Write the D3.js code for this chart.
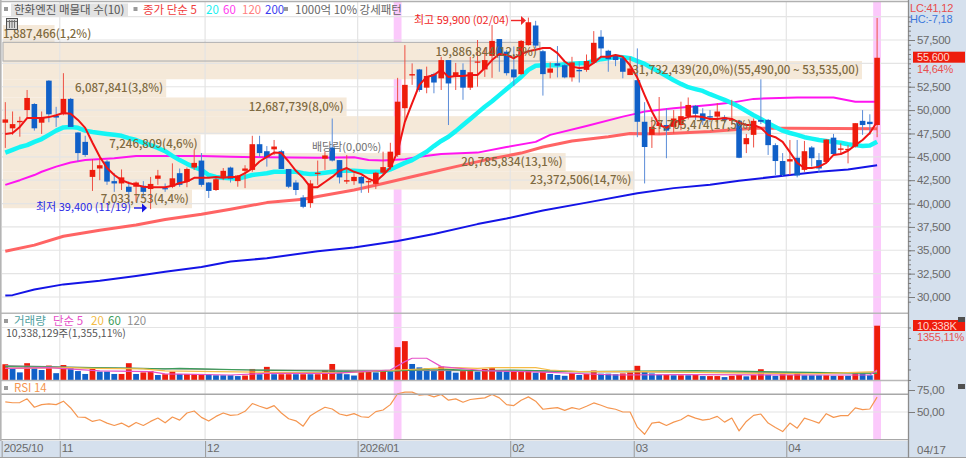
<!DOCTYPE html>
<html>
<head>
<meta charset="utf-8">
<script src="https://cdn.jsdelivr.net/npm/d3@7"></script>
<style>
    body { margin: 0; background: #fff; overflow: hidden; }
    text { font-family: "Noto Sans CJK KR", "Liberation Sans", sans-serif; }
</style>
</head>
<body>
<div class="chart"></div>
<script>
// candles, oldest first
const open = [
    48650,48050,48700,50000,50650,48650,53150,49400,49550,51200,
    47600,46600,42850,43750,44500,42400,42150,41800,41800,41900,
    41550,42650,41650,41800,43250,42350,43850,44600,42250,41450,
    42850,43850,42400,43500,43600,46350,45600,45800,45600,43700,
    42250,40650,40050,43150,44800,46000,44650,42350,42400,42850,
    42300,42100,43300,43900,45200,50200,53700,54350,52400,53850,
    53400,55350,53650,54300,52400,55100,54350,55800,57600,56250,
    54350,53850,56950,59050,56300,54000,55000,54800,53500,54300,
    54300,55100,57850,56350,55800,55550,53750,53200,48750,47350,
    48300,48400,48200,48400,49350,50450,49650,49350,49300,49200,
    48850,48850,46350,47350,48950,48950,46250,44550,44500,44900,
    43600,46000,44650,44450,47050,45750,45750,46100,48850,48750,48400];
const high = [
    50850,49850,49300,52150,50750,49850,53200,50350,53950,51300,
    47650,47250,44750,45000,44650,43250,43650,42350,42350,42400,
    42850,43600,42150,44300,43750,43850,45750,45400,42300,42750,
    43800,43950,43050,44100,47250,47250,46150,46800,45750,43700,
    42500,40900,42500,44600,45550,49100,44650,45200,43250,42950,
    42500,43400,45550,46500,53450,56950,55000,54400,54650,54000,
    55700,55350,55050,55000,55700,57500,56650,59100,57600,56450,
    56800,57500,59900,59550,56450,55100,56850,54950,55700,55200,
    55950,58450,58550,56450,55950,55700,55700,56600,50850,49250,
    51400,50200,50000,50900,51350,50550,50200,50000,50750,49450,
    51100,48950,47450,49100,53300,49050,46450,45400,46800,46800,
    46700,46150,45400,46900,47450,46450,46250,48600,50000,49550,59850];
const low = [
    45950,47350,47150,49150,47800,47450,48700,48200,49450,48200,
    44500,45000,41350,42500,42000,41250,41450,40050,40200,40600,
    39400,42000,41250,41650,41800,41750,43600,41800,40600,41350,
    42500,42250,41800,41650,43400,45000,43950,45200,43700,41650,
    40900,39500,39550,42000,43600,44500,42150,42100,42000,41150,
    41150,41550,43050,43600,45000,48750,52700,51950,51800,51800,
    52150,48400,52150,51100,52150,52500,53550,53450,54100,53700,
    52600,53750,56900,56650,51550,53400,53500,53400,53050,52950,
    54100,55000,55550,54100,54700,53400,53750,47100,42150,45950,
    47350,44850,47500,47850,49000,48950,48400,48750,48600,48600,
    48400,44850,45400,46000,48500,45200,43050,42950,43050,42800,
    43400,43950,43300,44350,45200,45200,44300,46000,47350,47350,47100];
const close = [
    49000,48500,48850,51300,48050,49250,49550,49200,51200,48200,
    45400,45200,43600,44100,42350,42150,42800,41250,42250,41250,
    42100,43000,41550,42700,42000,43700,44350,42000,41350,42600,
    43500,42650,43000,43750,46350,45400,44950,46100,43700,41800,
    41450,39650,42150,43300,45150,44600,42800,42500,42850,42150,
    42400,43300,43900,45550,50900,52700,53850,52150,53650,52950,
    55350,52850,54050,52400,54050,55200,55350,57400,55800,53950,
    53500,57400,59400,56900,53850,54450,54750,53500,55100,54150,
    55250,57200,56600,55450,55350,54100,54450,48750,46050,48200,
    48600,47800,49100,49350,50550,49600,48850,49200,49850,48950,
    49000,44900,47000,48850,48750,46250,44550,43050,44750,43000,
    45600,44850,43750,46850,45300,45900,45850,48600,48400,48500,55600];

// moving averages
const ma5 = [
    47450,47550,48200,49150,49150,49150,49250,49450,49700,49600,
    48950,48100,46500,45000,43800,43050,42500,42200,42000,41800,
    41750,41750,41750,41900,42200,42350,42750,42750,42750,42850,
    42750,42850,42850,43250,43750,44500,45000,45450,45400,44500,
    43500,42750,41750,41750,42300,42850,43500,43800,43400,43150,
    42650,42350,43050,43850,45550,48750,50750,52700,53550,53750,
    54300,53550,53650,53650,53750,53750,54500,55350,56000,55900,
    55550,56000,56300,56450,56650,56650,56100,55200,54650,54500,
    54550,55050,55700,55700,55900,55700,54800,53450,51600,49850,
    48400,48100,48600,48950,49300,49350,49250,49050,49050,49150,
    49050,48650,48400,48400,48100,47350,47100,46600,45500,44350,
    43800,43800,43950,44350,45200,45300,45650,46250,46800,47550,48750];
const ma20 = [
    45450,45750,46050,46250,46600,46900,47350,47800,48150,48200,
    48100,47800,47650,47550,47450,47350,47250,47000,46800,46500,
    46250,45950,45600,45100,44650,44250,43900,43600,43050,42850,
    42750,42700,42650,42850,43050,43150,43250,43400,43400,43400,
    43400,43250,43150,43200,43300,43400,43500,43500,43500,43450,
    43400,43400,43400,43650,44000,44350,44650,45100,45550,46150,
    46700,47150,47750,48400,49050,49700,50350,50950,51600,52250,
    52900,53550,54300,54750,54800,54800,54800,54900,54950,55000,
    55050,55250,55450,55550,55700,55650,55550,55250,54950,54500,
    54100,53650,53200,52800,52450,52250,52050,51700,51400,51100,
    50750,50350,49900,49450,49050,48600,48200,47800,47550,47350,
    47100,46950,46800,46700,46600,46500,46350,46250,46150,46200,46600];
const ma60X = [0,2,4,5,7,9,11,15,18,22,27,31,36,43,48,50,52,55,57,60,65,69,73,75,80,85,87,88,92,97,100,103,109,114,117,120];
const ma60 = [42000,42500,43050,43400,43950,44400,44650,44850,45100,45100,45100,45000,44950,44900,44950,44650,44600,44750,45000,45300,45450,46050,46600,47350,48300,49300,49650,49850,50200,50550,50800,51200,51350,51350,50900,50900];
const ma120X = [0,4,8,13,18,22,27,31,36,41,43,48,52,57,62,66,71,74,78,83,86,90,97,103,108,120];
const ma120 = [34900,35550,36500,37150,37700,38300,38850,39400,40100,40450,40750,41450,42150,43050,43950,44650,45400,46050,46700,47150,47500,47450,47700,48050,48050,48000];
const ma200X = [0,1,4,8,13,18,22,27,31,36,43,48,54,59,65,69,74,80,87,92,97,101,108,112,116,120];
const ma200 = [30150,30200,30800,31350,31750,32250,32700,33200,33800,34150,34900,35300,36000,36750,37800,38400,39250,40100,41100,41650,42000,42450,43050,43400,43650,44100];

// 매물대 bands, top to bottom
const bandTop = [59100,57250,55250,53300,51350,49350,47400,45400,43450,41500];
const bandBottom = [57250,55250,53300,51350,49350,47400,45400,43450,41500,39500];
const bandPct = [1.2,12.5,20.0,3.8,8.0,17.5,4.6,13.1,14.7,4.4];
const bandLabels = ["1,887,466(1,2%)","19,886,844(12,5%)","31,732,439(20,0%)(55,490,00 ~ 53,535,00)","6,087,841(3,8%)","12,687,739(8,0%)","27,705,474(17,5%)","7,246,809(4,6%)","20,785,834(13,1%)","23,372,506(14,7%)","7,033,753(4,4%)"];

// volume in thousands of shares
const volume = [
    3000,2100,1450,3200,2250,1900,2750,1300,2850,2250,
    1700,1150,2100,1600,1600,1150,1150,3200,1150,1450,
    1700,950,1100,1600,1150,1150,1150,1150,1100,900,
    900,900,750,850,2100,1100,2500,1100,1100,1100,
    1100,1100,1100,1100,1900,3050,1600,1100,850,1600,
    1600,1450,1900,1600,6250,7400,3050,2400,2250,1700,
    2550,2100,1400,1700,1900,1600,2100,2250,1900,1600,
    1700,1600,1900,1400,1600,1150,950,800,1350,950,
    1150,1800,1200,1200,1100,1250,1450,2700,1600,1250,
    1000,1000,900,900,900,950,750,750,750,550,
    800,950,700,950,2050,1000,800,1100,950,1350,
    900,900,900,900,800,800,800,1250,1250,900,10338];
const volumeDir = ("rbbrbbrbrb" + "bbrbbbrrbr" + "rbrrbrrrbb" + "bbbrrbrbrr" + "brbrrrbbbr" + "rbrbrrbbbb" +
    "rbbrrb" + "rrbbrrrbrb" + "bbrbrrbbbr" + "rrbbbrbrbr" + "brrbrrbrrb" + "brrrbbbrbr" + "brbbr").split("");
const volMa5X = [0,6,13,20,22,31,36,40,45,53,55,56,58,60,65,66,75,84,93,111,119,120];
const volMa5 = [2230,2370,1720,1590,1150,950,1270,1270,1270,1900,3500,4140,4140,2550,1900,1780,1470,950,1020,950,950,1900];
const volMa20X = [0,9,12,19,22,29,40,47,54,59,62,65,67,73,75,79,88,111,120];
const volMa20 = [2230,2360,2230,2100,1720,1590,1400,1400,1900,2230,2360,2230,2360,2360,1900,1590,1590,1150,1590];
const volMa60X = [0,12,22,24,27,34,40,50,54,59,65,70,79,95,120];
const volMa60 = [2550,2360,2100,2230,2100,1900,1780,1590,1720,2100,1780,1900,1590,1780,1270];
const volMa120X = [0,10,18,34,65,79,120];
const volMa120 = [2740,2420,2230,1900,1780,1590,1330];

const rsi = [
    61.5,60.5,60.7,65,55.4,58.4,59.2,58.4,62.3,54.6,
    44.3,43.9,39.3,41.2,37.4,34.7,37.4,33.1,38.1,34.7,
    39.3,43.1,37.7,44.3,40.8,48.9,51.1,43.9,39.7,45,
    48.9,46.2,46.9,50.8,59.6,56.5,53.8,57.3,48.9,42.3,
    40,33.9,45.8,50.8,55.4,53.4,47.7,45.8,48.1,44.6,
    43.9,50.4,52.3,58.4,70.7,72.6,72.6,69.2,69.9,67.2,
    69.9,63.4,64.9,61.1,64.2,65.3,66.1,69.9,66.1,58.4,
    57.3,63.4,67.2,62.3,53.1,54.2,55,51.9,55,53.1,
    56.5,60.3,57.7,54.6,53.1,50,50,32.8,24.7,37.4,
    38.5,34.7,38.5,41.2,46.2,43.1,40.8,42,45,38.5,
    43.1,28.5,39.3,46.2,47.7,37.4,32.4,27.8,37.4,31.6,
    43.1,40.4,37.4,48.1,43.9,45.8,45.8,54.6,52.7,53.4,66.9];

const monthIdx = [0,8,28,49,70,87,108];
const monthLabels = ["2025/10","11","12","2026/01","02","03","04"];
const priceTicks = [30000,32500,35000,37500,40000,42500,45000,47500,50000,52500,55000,57500];
const highlightIdx = [54,120];

const width = 966;
const height = 458;
const axisX = 908;
const gridColor = "#e4e4e4";
const panelColor = "#d5e0ed";
const upColor = "#ee1c0c";
const downColor = "#1060c8";
const numFont = "'Liberation Sans', sans-serif";

const x = d3.scaleLinear().domain([0, 120]).range([5.3, 877.1]);
const y = d3.scaleLinear().domain([30000, 57500]).range([297, 40]);
const yVol = d3.scaleLinear().domain([0, 10338]).range([380, 325.7]);
const yRsi = d3.scaleLinear().domain([50, 75]).range([412, 390]);
const bandW = d3.scaleLinear().domain([0, 20]).range([3, 862]);

const svg = d3.select("div.chart")
    .append("svg")
    .attr("width", width)
    .attr("height", height)
    .style("display", "block");

svg.append("rect").attr("width", width).attr("height", height).attr("fill", "#fff");

// pink signal days
svg.append("g").selectAll("rect")
    .data(highlightIdx)
    .enter()
    .append("rect")
    .attr("x", d => x(d) - 3.9)
    .attr("y", 2)
    .attr("width", 7.8)
    .attr("height", 438)
    .attr("fill", "#fbc9fb");

// price bands
svg.append("g").selectAll("rect")
    .data(bandPct)
    .enter()
    .append("rect")
    .attr("x", 3)
    .attr("y", (d, i) => y(bandTop[i]))
    .attr("width", d => bandW(d) - 3)
    .attr("height", (d, i) => y(bandBottom[i]) - y(bandTop[i]))
    .attr("fill", "#f5e9d9");

// grid
const grid = svg.append("g").attr("stroke", gridColor).attr("stroke-width", 1.2);
grid.selectAll("line.h")
    .data(priceTicks.concat([60000]))
    .enter()
    .append("line")
    .attr("x1", 2).attr("x2", axisX)
    .attr("y1", d => y(d)).attr("y2", d => y(d));
grid.selectAll("line.v")
    .data(monthIdx.slice(1))
    .enter()
    .append("line")
    .attr("x1", d => x(d - 0.5)).attr("x2", d => x(d - 0.5))
    .attr("y1", 2).attr("y2", 440);
grid.append("line").attr("x1", 2).attr("x2", axisX).attr("y1", yVol(10000)).attr("y2", yVol(10000));
grid.append("line").attr("x1", 2).attr("x2", axisX).attr("y1", yRsi(50)).attr("y2", yRsi(50));

// box around the band with the current price label
svg.append("rect")
    .attr("x", 3)
    .attr("y", y(bandTop[1]))
    .attr("width", bandW(bandPct[1]) - 3)
    .attr("height", y(bandBottom[1]) - y(bandTop[1]))
    .attr("fill", "none")
    .attr("stroke", "#b4b4b4")
    .attr("stroke-width", 1.2);

function drawLine(xs, vals, yScale, color, w) {
    svg.append("path")
        .datum(vals)
        .attr("fill", "none")
        .attr("stroke", color)
        .attr("stroke-width", w)
        .attr("stroke-linejoin", "round")
        .attr("d", d3.line().x((d, i) => x(xs ? xs[i] : i)).y(d => yScale(d)));
}

drawLine(ma200X, ma200, y, "#1414e6", 2);
drawLine(ma120X, ma120, y, "#ff6464", 3);
drawLine(ma60X, ma60, y, "#ff14f0", 2);
drawLine(null, ma20, y, "#14f5f5", 4.5);

// candles
const candles = svg.append("g");
candles.selectAll("line")
    .data(close)
    .enter()
    .append("line")
    .attr("x1", (d, i) => x(i)).attr("x2", (d, i) => x(i))
    .attr("y1", (d, i) => y(high[i]))
    .attr("y2", (d, i) => y(low[i]))
    .attr("stroke", (d, i) => d >= open[i] ? "#ee5044" : "#5a8cd8")
    .attr("stroke-width", 1);
candles.selectAll("rect")
    .data(close)
    .enter()
    .append("rect")
    .attr("x", (d, i) => x(i) - 2.8)
    .attr("width", 5.6)
    .attr("y", (d, i) => y(Math.max(d, open[i])))
    .attr("height", (d, i) => Math.max(1.2, Math.abs(y(d) - y(open[i]))))
    .attr("fill", (d, i) => d >= open[i] ? upColor : downColor);

drawLine(null, ma5, y, "#f01414", 2);

// band labels; the first does not fit its bar so it starts at the left
svg.append("g").selectAll("text")
    .data(bandLabels)
    .enter()
    .append("text")
    .attr("x", (d, i) => i === 0 ? 3 : bandW(bandPct[i]) - 3)
    .attr("y", (d, i) => (y(bandTop[i]) + y(bandBottom[i])) / 2 + 4)
    .attr("text-anchor", (d, i) => i === 0 ? "start" : "end")
    .attr("font-size", 11.5)
    .attr("font-weight", 500)
    .attr("fill", "#7f6a40")
    .text(d => d);

// high / low / ex-dividend notes
svg.append("text").attr("x", 414).attr("y", 24).attr("font-size", 11).attr("fill", "#f02828").text("최고 59,900 (02/04)");
svg.append("text").attr("x", 36).attr("y", 211).attr("font-size", 11).attr("fill", "#2828e6").text("최저 39,400 (11/19)");
svg.append("text").attr("x", 312).attr("y", 151).attr("font-size", 11).attr("fill", "#707070").text("배당락(0,00%)");

function arrow(x1, x2, yy, color) {
    svg.append("line").attr("x1", x1).attr("x2", x2 - 3).attr("y1", yy).attr("y2", yy)
        .attr("stroke", color).attr("stroke-width", 1.4);
    svg.append("path").attr("fill", color)
        .attr("d", d3.line()([[x2 - 5, yy - 4.5], [x2, yy], [x2 - 5, yy + 4.5]]));
}
arrow(511, 526, 20.5, "#f02828");
arrow(134, 147, 208, "#1414e6");

// volume
svg.append("g").selectAll("rect")
    .data(volume)
    .enter()
    .append("rect")
    .attr("x", (d, i) => x(i) - 2.9)
    .attr("width", 5.8)
    .attr("y", d => yVol(d))
    .attr("height", d => yVol(0) - yVol(d))
    .attr("fill", (d, i) => volumeDir[i] === "r" ? upColor : downColor);

drawLine(volMa120X, volMa120, yVol, "#8c8c8c", 1.2);
drawLine(volMa60X, volMa60, yVol, "#3c9c5a", 1.2);
drawLine(volMa20X, volMa20, yVol, "#f4bc46", 1.2);
drawLine(volMa5X, volMa5, yVol, "#e650c8", 1.2);

// rsi
drawLine(null, rsi, yRsi, "#f59650", 1.2);

// panel separators
const seps = [[1.5, "#b0b0b0"], [313.3, "#b8b8b8"], [380.5, "#b8b8b8"], [394.3, "#a8a8a8"], [439.6, "#a8a8a8"]];
svg.append("g").selectAll("line")
    .data(seps)
    .enter()
    .append("line")
    .attr("x1", 0).attr("x2", axisX)
    .attr("y1", d => d[0]).attr("y2", d => d[0])
    .attr("stroke", d => d[1])
    .attr("stroke-width", 1.4);
svg.append("rect").attr("x", 0).attr("y", 0).attr("width", 1.6).attr("height", height).attr("fill", "#b4b4b4");

// right and bottom strips
svg.append("rect").attr("x", axisX).attr("y", 0).attr("width", width - axisX).attr("height", height).attr("fill", panelColor);
svg.append("rect").attr("x", 0).attr("y", 441).attr("width", width).attr("height", 17).attr("fill", panelColor);
svg.append("line").attr("x1", 0).attr("x2", width).attr("y1", 457.5).attr("y2", 457.5).attr("stroke", "#a0a0a0");
svg.append("line").attr("x1", axisX + 0.5).attr("x2", axisX + 0.5).attr("y1", 0).attr("y2", height).attr("stroke", "#8c8c8c").attr("stroke-width", 1.3);

function styleAxis(g) {
    g.select(".domain").remove();
    g.selectAll("line").attr("stroke", "#7c7c7c");
    g.selectAll("text").attr("fill", "#6a6a6a").attr("font-size", 11.5)
        .style("font-family", numFont).attr("letter-spacing", -0.3);
}

svg.append("g")
    .attr("transform", `translate(${axisX},0)`)
    .call(d3.axisRight(y).tickValues(d3.range(29500, 60001, 500)).tickSize(3).tickFormat(""))
    .call(styleAxis);
// 55,000 sits under the current price tag, so it gets no label
svg.append("g")
    .attr("transform", `translate(${axisX},0)`)
    .call(d3.axisRight(y).tickValues(priceTicks.filter(d => d !== 55000)).tickSize(7).tickPadding(2).tickFormat(d3.format(",")))
    .call(styleAxis);
svg.append("g")
    .attr("transform", `translate(${axisX},0)`)
    .call(d3.axisRight(yVol).tickValues(d3.range(0, 10001, 2000)).tickSize(3).tickFormat(""))
    .call(styleAxis);
svg.append("g")
    .attr("transform", `translate(${axisX},0)`)
    .call(d3.axisRight(yRsi).tickValues([50, 75]).tickSize(7).tickPadding(2).tickFormat(d => d + ",00"))
    .call(styleAxis);

const dateAxis = svg.append("g")
    .attr("transform", "translate(0,441)")
    .call(d3.axisBottom(x).tickValues(monthIdx.map(d => d - 0.5)).tickSize(16)
        .tickFormat((d, i) => monthLabels[i]))
    .call(styleAxis);
dateAxis.selectAll("line").attr("stroke", "#9a9a9a");
dateAxis.selectAll("text").attr("text-anchor", "start").attr("x", 1.5).attr("y", 3);
svg.append("text").attr("x", 917).attr("y", 454).attr("font-size", 11.5)
    .style("font-family", numFont).attr("fill", "#6a6a6a").text("04/17");

// right strip readouts
function readout(xx, yy, color, label) {
    svg.append("text").attr("x", xx).attr("y", yy).attr("font-size", 11)
        .attr("letter-spacing", -0.2)
        .style("font-family", numFont).attr("fill", color).text(label);
}
readout(910, 12, "#e84c4c", "LC:41,12");
readout(910, 23, "#3c78dc", "HC:-7,18");
svg.append("rect").attr("x", 913).attr("y", 51.7).attr("width", 52).attr("height", 11).attr("fill", upColor);
readout(917, 61, "#ffd8d0", "55,600");
readout(917, 73, "#e85050", "14,64%");
svg.append("rect").attr("x", 913).attr("y", 320).attr("width", 52).attr("height", 11).attr("fill", upColor);
readout(917, 329.5, "#ffd8d0", "10,338K");
readout(917, 341, "#e85050", "1355,11%");
[317, 384].forEach(d => {
    svg.append("rect").attr("x", 958).attr("y", d).attr("width", 7).attr("height", 5).attr("fill", "#505050");
});

// legends
[[6, 9], [135.5, 9], [286, 9], [6, 321], [6, 388]].forEach(d => {
    svg.append("rect").attr("x", d[0] - 2).attr("y", d[1] - 2).attr("width", 4).attr("height", 4).attr("fill", "#9a9a9a");
});
svg.append("rect").attr("x", 11).attr("y", 3.5).attr("width", 117).attr("height", 13).attr("fill", "#e2e2e2");

function legend(items, yy, size) {
    items.forEach(d => {
        svg.append("text").attr("x", d[0]).attr("y", yy).attr("font-size", size).attr("fill", d[2]).text(d[1]);
    });
}
legend([[14, "한화엔진 매물대 수(10)", "#555"], [143, "종가 단순 5", "#f03c3c"], [206, "20", "#19f0f0"],
    [223, "60", "#ff3cf0"], [242, "120", "#ff8080"], [265, "200", "#3c3cf0"], [295, "1000억 10% 강세패턴", "#666"]], 14, 11.5);
legend([[14, "거래량", "#50a0a0"], [53, "단순 5", "#e650c8"], [91, "20", "#f4bc46"], [108, "60", "#3c9c5a"], [127, "120", "#909090"]], 325, 11.5);
legend([[6, "10,338,129주(1,355,11%)", "#555"]], 337, 10.5);
legend([[14, "RSI 14", "#f59650"]], 392, 11.5);

// little grid icon under the legend
svg.append("rect").attr("x", 6.5).attr("y", 18.5).attr("width", 11).attr("height", 11)
    .attr("fill", "#d8d8d8").attr("stroke", "#505050");
[9.5, 12, 14.5].forEach(d => {
    svg.append("line").attr("x1", d).attr("x2", d).attr("y1", 20).attr("y2", 28).attr("stroke", "#707070");
});
svg.append("line").attr("x1", 7).attr("x2", 17).attr("y1", 21.5).attr("y2", 21.5).attr("stroke", "#707070");
</script>
</body>
</html>
